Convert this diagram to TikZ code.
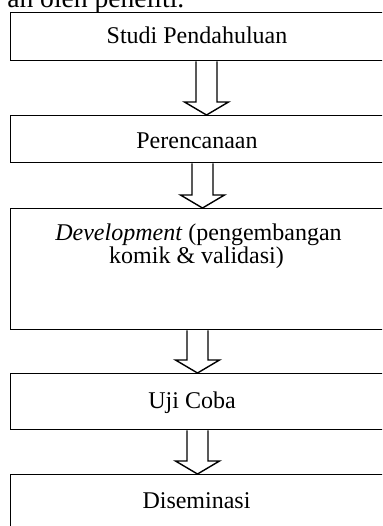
\documentclass[tikz,border=0pt]{standalone}
\usepackage{fontspec}
\setmainfont{Liberation Serif}
\usetikzlibrary{calc}

\newcommand{\panah}[3]{%
  \path (#1.south west) ++(#3,0) coordinate (p) (#2.north west) ++(#3,0) coordinate (q);
  \draw[blok] ($(p)+(-10.5,0)$) -- ($(q)+(-10.5,-13)$) -- ($(q)+(-22,-13)$) -- (q)
    -- ($(q)+(22,-13)$) -- ($(q)+(10.5,-13)$) -- ($(p)+(10.5,0)$);
}

\begin{document}
\begin{tikzpicture}[x=0.5pt, y=-0.5pt, line width=0.7pt,
  kotak/.style={draw, rectangle, anchor=north west, minimum width=222pt, inner sep=0pt},
  teks/.style={font=\fontsize{12}{14}\selectfont, inner sep=0pt},
  blok/.style={line width=0.7pt, line join=miter}]
  \useasboundingbox (0,0) rectangle (382,526);
  \clip (0,0) rectangle (382,526);

  \node [font=\fontsize{13.8}{16}\selectfont, inner sep=0pt, anchor=base east] (atas) at (185,7) {an oleh peneliti.};

  \node [kotak, minimum height=24pt] (b1) at (10,12) {};
  \node [kotak, minimum height=23.5pt] (b2) at (10,115) {};
  \node [kotak, minimum height=60.5pt] (b3) at (10,208) {};
  \node [kotak, minimum height=28pt] (b4) at (10,373) {};
  \node [kotak, minimum height=40pt] (b5) at (10,474) {};

  \node [teks, anchor=base] (t1) at (197,43) {Studi Pendahuluan};
  \node [teks, anchor=base] (t2) at (197,148) {Perencanaan};
  \node [teks, anchor=base] (t3a) at (198.5,240) {\textit{Development} (pengembangan};
  \node [teks, anchor=base] (t3b) at (196.5,263) {komik \& validasi)};
  \node [teks, anchor=base] (t4) at (192,408) {Uji Coba};
  \node [teks, anchor=base] (t5) at (196.5,508) {Diseminasi};

  \panah{b1}{b2}{196.5}
  \panah{b2}{b3}{192.5}
  \panah{b3}{b4}{187.5}
  \panah{b4}{b5}{187.5}

\end{tikzpicture}
\end{document}
